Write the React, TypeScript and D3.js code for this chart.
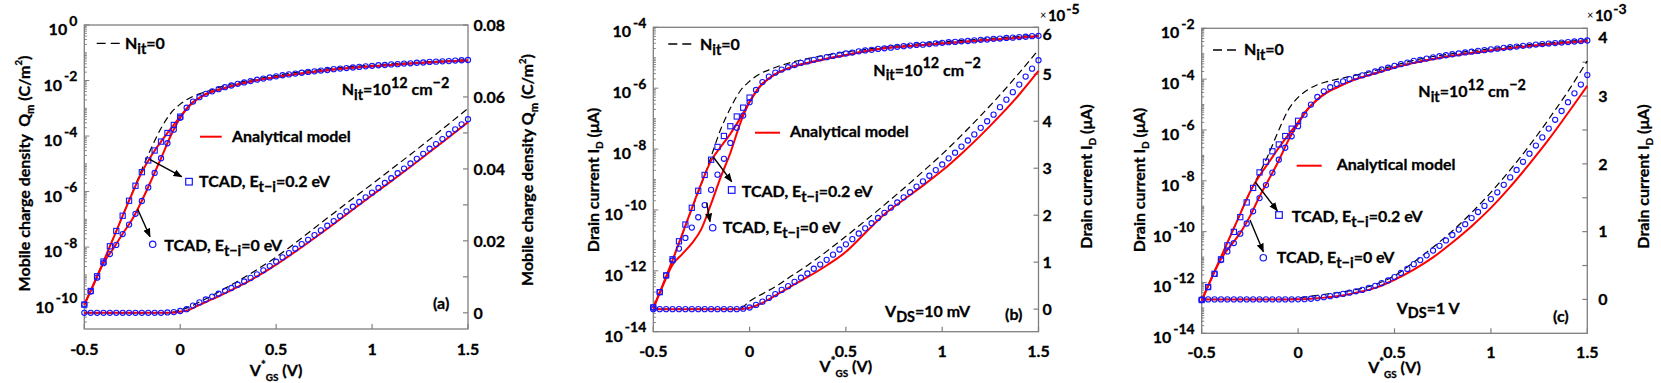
import React from 'react'
import * as d3 from 'd3'

// gate voltage grids (TCAD samples and model curve samples)
const vTcad = d3.range(61).map((i) => -0.5 + i / 30)
const vModel = [-0.5, -0.45, -0.4, -0.35, -0.3, -0.25, -0.2, -0.15, -0.1, -0.05, 0, 0.05, 0.1, 0.15, 0.2, 0.3, 0.4, 0.5, 0.6, 0.7, 0.8, 0.9, 1, 1.1, 1.2, 1.3, 1.4, 1.5]
const xTicks = [-0.5, 0, 0.5, 1, 1.5]

// (a) mobile charge density: log10(Qm) on the left axis, Qm (C/m2) on the right axis
const aLogCircle = [-10.07, -9.6, -9.1, -8.58, -8.25, -7.92, -7.53, -7.19, -6.8, -6.34, -5.85, -5.33, -4.8, -4.26, -3.77, -3.34, -2.98, -2.76, -2.6, -2.48, -2.39, -2.31, -2.24, -2.18, -2.12, -2.07, -2.02, -1.97, -1.93, -1.89, -1.85, -1.81, -1.78, -1.75, -1.72, -1.69, -1.67, -1.64, -1.62, -1.59, -1.57, -1.55, -1.53, -1.51, -1.49, -1.47, -1.45, -1.44, -1.42, -1.41, -1.39, -1.38, -1.36, -1.35, -1.33, -1.32, -1.31, -1.3, -1.28, -1.27, -1.26]
const aLogSquare = [-10.07, -9.58, -9.05, -8.52, -7.97, -7.42, -6.87, -6.33, -5.79, -5.3, -4.88, -4.52, -4.2, -3.89, -3.6, -3.3]
const aLinCircle = [0, 0, 0, 0, 0, 0, 0, 0, 0, 0, 0, 0, 0, 0.0001, 0.0002, 0.0005, 0.001, 0.002, 0.0029, 0.0037, 0.0045, 0.0053, 0.0061, 0.0069, 0.0078, 0.0087, 0.0097, 0.0107, 0.0118, 0.013, 0.0142, 0.0154, 0.0166, 0.0178, 0.0191, 0.0203, 0.0216, 0.0229, 0.0242, 0.0255, 0.0269, 0.0282, 0.0295, 0.0308, 0.0321, 0.0334, 0.0347, 0.0361, 0.0374, 0.0388, 0.0401, 0.0415, 0.0428, 0.0442, 0.0456, 0.0469, 0.0483, 0.0497, 0.051, 0.0524, 0.0538]
const aLogDash = [-10.07, -9.32, -8.52, -7.7, -6.87, -6.04, -5.2, -4.42, -3.72, -3.18, -2.85, -2.63, -2.48, -2.37, -2.25, -2.08, -1.94, -1.82, -1.71, -1.63, -1.56, -1.49, -1.45, -1.4, -1.36, -1.32, -1.28, -1.25]
const aLogRed02 = [-10.07, -9.32, -8.52, -7.7, -6.87, -6.06, -5.3, -4.7, -4.2, -3.74, -3.3, -2.9, -2.62, -2.44, -2.33, -2.14, -1.99, -1.87, -1.77, -1.68, -1.6, -1.54, -1.49, -1.44, -1.39, -1.35, -1.31, -1.28]
const aLogRed0 = [-10.07, -9.32, -8.57, -8.07, -7.52, -7.0, -6.33, -5.58, -4.8, -4.0, -3.34, -2.88, -2.62, -2.44, -2.33, -2.14, -1.99, -1.87, -1.77, -1.68, -1.6, -1.54, -1.49, -1.44, -1.39, -1.35, -1.31, -1.28]
const aLinDash = [0, 0, 0, 0, 0, 0, 0, 0, 0, 0.0001, 0.0008, 0.0017, 0.003, 0.0043, 0.0058, 0.0088, 0.012, 0.0155, 0.0194, 0.0236, 0.0277, 0.0318, 0.0358, 0.0399, 0.044, 0.0482, 0.0525, 0.0568]
const aLinRed = [0, 0, 0, 0, 0, 0, 0, 0, 0, 0, 0.0003, 0.0009, 0.0022, 0.0034, 0.0046, 0.0072, 0.0101, 0.0134, 0.017, 0.0208, 0.0247, 0.0287, 0.0327, 0.0366, 0.0406, 0.0447, 0.0488, 0.053]

// (b) drain current, VDS = 10 mV: log10(ID) left, ID in units of 1e-5 right
const bLogCircle = [-13.2, -12.7, -12.15, -11.66, -11.27, -10.92, -10.58, -10.24, -9.84, -9.34, -8.84, -8.32, -7.8, -7.3, -6.9, -6.46, -6.06, -5.8, -5.62, -5.49, -5.39, -5.31, -5.24, -5.17, -5.12, -5.07, -5.02, -4.98, -4.94, -4.9, -4.86, -4.83, -4.79, -4.76, -4.74, -4.71, -4.69, -4.67, -4.64, -4.62, -4.6, -4.58, -4.57, -4.55, -4.53, -4.51, -4.49, -4.48, -4.46, -4.45, -4.43, -4.41, -4.4, -4.38, -4.37, -4.35, -4.34, -4.32, -4.31, -4.29, -4.28]
const bLogSquare = [-13.2, -12.7, -12.15, -11.62, -11.03, -10.48, -9.93, -9.37, -8.85, -8.35, -7.93, -7.57, -7.25, -6.93, -6.64, -6.31]
const bLinCircle = [0, 0, 0, 0, 0, 0, 0, 0, 0, 0, 0, 0, 0, 0, 0.01, 0.035, 0.09, 0.16, 0.24, 0.32, 0.41, 0.49, 0.58, 0.67, 0.76, 0.86, 0.95, 1.05, 1.16, 1.27, 1.38, 1.49, 1.61, 1.72, 1.83, 1.94, 2.05, 2.16, 2.27, 2.38, 2.49, 2.61, 2.72, 2.84, 2.96, 3.08, 3.21, 3.33, 3.46, 3.59, 3.72, 3.86, 4.0, 4.14, 4.3, 4.46, 4.62, 4.78, 4.95, 5.12, 5.3]
const bLogDash = [-13.23, -12.45, -11.65, -10.82, -9.97, -9.15, -8.25, -7.35, -6.66, -6.1, -5.77, -5.54, -5.4, -5.28, -5.18, -5.03, -4.91, -4.81, -4.73, -4.65, -4.59, -4.53, -4.48, -4.43, -4.39, -4.34, -4.3, -4.26]
const bLogRed02 = [-13.23, -12.45, -11.65, -10.8, -9.95, -9.12, -8.38, -7.93, -7.5, -7.0, -6.45, -5.97, -5.68, -5.48, -5.35, -5.17, -5.03, -4.91, -4.79, -4.69, -4.63, -4.58, -4.53, -4.48, -4.43, -4.39, -4.34, -4.29]
const bLogRed0 = [-13.23, -12.48, -11.8, -11.45, -11.1, -10.62, -9.8, -8.92, -8.13, -7.18, -6.45, -5.97, -5.68, -5.48, -5.35, -5.17, -5.03, -4.91, -4.79, -4.69, -4.63, -4.58, -4.53, -4.48, -4.43, -4.39, -4.34, -4.29]
const bLinDash = [0, 0, 0, 0, 0, 0, 0, 0, 0, 0.01, 0.17, 0.29, 0.4, 0.52, 0.66, 0.93, 1.23, 1.55, 1.88, 2.22, 2.57, 2.93, 3.3, 3.7, 4.12, 4.56, 5.03, 5.52]
const bLinRed = [0, 0, 0, 0, 0, 0, 0, 0, 0, 0, 0.03, 0.1, 0.21, 0.33, 0.45, 0.68, 0.93, 1.22, 1.62, 2.02, 2.33, 2.63, 2.95, 3.31, 3.7, 4.12, 4.57, 5.07]

// (c) drain current, VDS = 1 V: log10(ID) left, ID in units of 1e-3 right
const cLogCircle = [-12.69, -12.18, -11.66, -11.12, -10.78, -10.45, -10.08, -9.68, -9.2, -8.68, -8.17, -7.68, -7.17, -6.7, -6.25, -5.85, -5.4, -5.0, -4.7, -4.48, -4.32, -4.19, -4.09, -4.0, -3.92, -3.85, -3.77, -3.7, -3.62, -3.55, -3.48, -3.41, -3.35, -3.28, -3.24, -3.19, -3.14, -3.1, -3.06, -3.02, -2.99, -2.95, -2.92, -2.89, -2.86, -2.83, -2.8, -2.77, -2.745, -2.72, -2.69, -2.67, -2.64, -2.62, -2.6, -2.58, -2.56, -2.54, -2.52, -2.5, -2.48]
const cLogSquare = [-12.69, -12.18, -11.66, -11.09, -10.54, -10.01, -9.43, -8.85, -8.28, -7.67, -7.25, -6.84, -6.57, -6.24, -5.95, -5.64]
const cLinCircle = [0, 0, 0, 0, 0, 0, 0, 0, 0, 0, 0, 0, 0, 0, 0, 0.001, 0.004, 0.01, 0.02, 0.033, 0.048, 0.065, 0.081, 0.1, 0.12, 0.14, 0.17, 0.2, 0.24, 0.28, 0.33, 0.39, 0.45, 0.52, 0.58, 0.65, 0.72, 0.79, 0.87, 0.95, 1.03, 1.11, 1.2, 1.29, 1.38, 1.48, 1.58, 1.69, 1.8, 1.91, 2.03, 2.15, 2.27, 2.39, 2.52, 2.65, 2.78, 2.91, 3.04, 3.17, 3.31]
const cLogDash = [-12.72, -11.85, -11.0, -10.15, -9.3, -8.45, -7.7, -6.9, -6.0, -5.2, -4.72, -4.42, -4.22, -4.1, -4.01, -3.84, -3.66, -3.46, -3.26, -3.11, -3.0, -2.89, -2.8, -2.72, -2.64, -2.58, -2.51, -2.45]
const cLogRed02 = [-12.72, -11.85, -11.0, -10.15, -9.3, -8.45, -7.8, -7.25, -6.7, -6.18, -5.7, -5.18, -4.8, -4.52, -4.33, -4.0, -3.77, -3.54, -3.36, -3.21, -3.08, -2.97, -2.87, -2.78, -2.7, -2.63, -2.56, -2.5]
const cLogRed0 = [-12.72, -11.85, -11.08, -10.55, -10.05, -9.4, -8.62, -7.92, -7.2, -6.4, -5.75, -5.18, -4.8, -4.52, -4.33, -4.0, -3.77, -3.54, -3.36, -3.21, -3.08, -2.97, -2.87, -2.78, -2.7, -2.63, -2.56, -2.5]
const cLinDash = [0, 0, 0, 0, 0, 0, 0, 0, 0, 0, 0.02, 0.04, 0.06, 0.08, 0.098, 0.145, 0.22, 0.35, 0.55, 0.77, 1.01, 1.28, 1.58, 1.91, 2.27, 2.66, 3.07, 3.52]
const cLinRed = [0, 0, 0, 0, 0, 0, 0, 0, 0, 0, 0.002, 0.007, 0.016, 0.03, 0.047, 0.1, 0.17, 0.29, 0.44, 0.62, 0.84, 1.08, 1.35, 1.66, 2.0, 2.36, 2.75, 3.15]

const FONT = 'Lato, "Open Sans", sans-serif'
const GREY = '#7f7f7f'
const BLUE = '#1515ff'
const RED = '#ff0000'
// a thin outline makes Lato look closer to the heavy bold of the original
const heavy = { stroke: '#000', strokeWidth: 0.3 }

type Part = [string, ('n' | 'sub' | 'sup')?, number?]

function Rich({ x, y, parts, size = 16, anchor = 'start', rotate = 0 }: { x: number; y: number; parts: Part[]; size?: number; anchor?: string; rotate?: number }) {
  let shift = 0
  const spans = parts.map(([t, kind = 'n', sc], i) => {
    const target = kind === 'sup' ? -size * 0.45 : kind === 'sub' ? size * 0.3 : 0
    const dy = target - shift
    shift = target
    const fs = kind === 'n' ? size : size * (sc ?? 0.85)
    return (
      <tspan key={i} dy={dy} fontSize={fs}>
        {t}
      </tspan>
    )
  })
  return (
    <text x={x} y={y} textAnchor={anchor as any} fontFamily={FONT} fontWeight={700} fontSize={size} fill="#000" {...heavy} style={{ whiteSpace: 'pre' }} transform={rotate ? `rotate(${rotate} ${x} ${y})` : undefined}>
      {spans}
    </text>
  )
}

type Box = { l: number; r: number; t: number; b: number }
type Series = {
  logCircle: number[]; logSquare: number[]; linCircle: number[]
  logDash: number[]; logRed02: number[]; logRed0: number[]; linDash: number[]; linRed: number[]
}

function Panel(props: {
  box: Box; logMin: number; logMax: number; logLabels: number[]
  linDomain: [number, number]; linTicks: number[]; linLabels: number[]; linFmt: (v: number) => string
  rightDx: number; topShift: number; xLabelY: number; xTitleY: number; data: Series
  leftTitle: [number, number, Part[]]; rightTitle: [number, number, Part[]]
}) {
  const { box, logMin, logMax, logLabels, linDomain, linTicks, linLabels, linFmt, rightDx, topShift, xLabelY, xTitleY, data } = props
  const x = d3.scaleLinear().domain([-0.5, 1.5]).range([box.l, box.r])
  const yLog = d3.scaleLog().domain([10 ** logMin, 10 ** logMax]).range([box.b, box.t])
  const yLin = d3.scaleLinear().domain(linDomain).range([box.b, box.t])
  const logLine = d3.line<number>().x((_, i) => x(vModel[i])).y((d) => yLog(10 ** d)).curve(d3.curveMonotoneX)
  const linLine = d3.line<number>().x((_, i) => x(vModel[i])).y((d) => yLin(d)).curve(d3.curveMonotoneX)

  const logTicks: { v: number; major: boolean }[] = []
  for (let e = Math.floor(logMin); e <= logMax; e++) {
    for (let k = 1; k < 10; k++) {
      const lv = e + Math.log10(k)
      if (lv < logMin - 1e-9 || lv > logMax + 1e-9) continue
      logTicks.push({ v: k * 10 ** e, major: k === 1 && logLabels.includes(e) })
    }
  }
  const fmtX = (v: number) => (v === 0 ? '0' : String(v))
  const txt = { fontFamily: FONT, fontWeight: 700, fontSize: 16, fill: '#000', ...heavy } as const
  const topLabel = d3.max(linLabels) ?? 0

  return (
    <g>
      <rect x={box.l} y={box.t} width={box.r - box.l} height={box.b - box.t} fill="none" stroke={GREY} strokeWidth={1.3} />
      {xTicks.map((v) => (
        <line key={'xt' + v} x1={x(v)} x2={x(v)} y1={box.b} y2={box.b - 5} stroke={GREY} strokeWidth={1.2} />
      ))}
      {xTicks.map((v) => (
        <text key={'xl' + v} x={x(v)} y={xLabelY} textAnchor="middle" {...txt}>
          {fmtX(v)}
        </text>
      ))}
      {logTicks.map((t, i) => (
        <line key={'lt' + i} x1={box.l} x2={box.l + (t.major ? 5 : 2.5)} y1={yLog(t.v)} y2={yLog(t.v)} stroke={GREY} strokeWidth={1} />
      ))}
      {logLabels.map((e) => (
        <text key={'ll' + e} x={box.l - 7} y={yLog(10 ** e) + 10} textAnchor="end" {...txt}>
          <tspan fontSize={16}>10</tspan>
          <tspan fontSize={14} dx={2} dy={-9.5}>
            {String(e)}
          </tspan>
        </text>
      ))}
      {linTicks.map((v) => (
        <line key={'rt' + v} x1={box.r} x2={box.r - 5} y1={yLin(v)} y2={yLin(v)} stroke={GREY} strokeWidth={1.2} />
      ))}
      {linLabels.map((v) => (
        <text key={'rl' + v} x={box.r + rightDx} y={yLin(v) + 5.8 + (v === topLabel ? topShift : 0)} {...txt}>
          {linFmt(v)}
        </text>
      ))}

      <path d={logLine(data.logDash) ?? ''} fill="none" stroke="#000" strokeWidth={1.2} strokeDasharray="7 4" />
      <path d={linLine(data.linDash) ?? ''} fill="none" stroke="#000" strokeWidth={1.2} strokeDasharray="7 4" />
      <path d={logLine(data.logRed02) ?? ''} fill="none" stroke={RED} strokeWidth={2} />
      <path d={logLine(data.logRed0) ?? ''} fill="none" stroke={RED} strokeWidth={2} />
      <path d={linLine(data.linRed) ?? ''} fill="none" stroke={RED} strokeWidth={2} />

      {data.logSquare.map((d, i) => (
        <rect key={'sq' + i} x={x(vTcad[i]) - 2.6} y={yLog(10 ** d) - 2.6} width={5.2} height={5.2} fill="none" stroke={BLUE} strokeWidth={1.1} />
      ))}
      {data.logCircle.map((d, i) => (
        <circle key={'lc' + i} cx={x(vTcad[i])} cy={yLog(10 ** d)} r={2.6} fill="none" stroke={BLUE} strokeWidth={1.1} />
      ))}
      {data.linCircle.map((d, i) => (
        <circle key={'nc' + i} cx={x(vTcad[i])} cy={yLin(d)} r={2.6} fill="none" stroke={BLUE} strokeWidth={1.1} />
      ))}

      <Rich x={x(0.5)} y={xTitleY} anchor="middle" parts={[['V'], ['*', 'sup', 0.7], ['GS', 'sub', 0.62], [' (V)']]} />
      <Rich x={props.leftTitle[0]} y={props.leftTitle[1]} anchor="middle" rotate={-90} parts={props.leftTitle[2]} />
      <Rich x={props.rightTitle[0]} y={props.rightTitle[1]} anchor="middle" rotate={-90} parts={props.rightTitle[2]} />
    </g>
  )
}

type NoteProps = {
  leg: [number, number, number, number, number]
  mod: [number, number, number, number, number]
  sq: [number, number, number, number]
  ci: [number, number, number, number]
  arrSq: [number, number, number, number]
  arrCi: [number, number, number, number]
  nit: [number, number]
  tag: [number, number, string]
  vds?: [number, number, string]
}

function Notes({ leg, mod, sq, ci, arrSq, arrCi, nit, tag, vds }: NoteProps) {
  return (
    <g>
      <line x1={leg[0]} x2={leg[1]} y1={leg[2]} y2={leg[2]} stroke="#000" strokeWidth={1.3} strokeDasharray="9 5" />
      <Rich x={leg[3]} y={leg[4]} parts={[['N'], ['it', 'sub', 0.9], ['=0']]} />
      <line x1={mod[0]} x2={mod[1]} y1={mod[2]} y2={mod[2]} stroke={RED} strokeWidth={2} />
      <Rich x={mod[3]} y={mod[4]} parts={[['Analytical model']]} />
      <rect x={sq[0] - 3.3} y={sq[1] - 3.3} width={6.6} height={6.6} fill="none" stroke={BLUE} strokeWidth={1.2} />
      <Rich x={sq[2]} y={sq[3]} parts={[['TCAD, E'], ['t\u2212i', 'sub', 0.9], ['=0.2 eV']]} />
      <circle cx={ci[0]} cy={ci[1]} r={3.2} fill="none" stroke={BLUE} strokeWidth={1.2} />
      <Rich x={ci[2]} y={ci[3]} parts={[['TCAD, E'], ['t\u2212i', 'sub', 0.9], ['=0 eV']]} />
      <line x1={arrSq[0]} y1={arrSq[1]} x2={arrSq[2]} y2={arrSq[3]} stroke="#000" strokeWidth={1.4} markerEnd="url(#arrowHead)" />
      <line x1={arrCi[0]} y1={arrCi[1]} x2={arrCi[2]} y2={arrCi[3]} stroke="#000" strokeWidth={1.4} markerEnd="url(#arrowHead)" />
      <Rich x={nit[0]} y={nit[1]} parts={[['N'], ['it', 'sub', 0.9], ['=10'], ['12', 'sup', 0.9], [' cm'], ['\u22122', 'sup', 0.9]]} />
      <Rich x={tag[0]} y={tag[1]} parts={[[tag[2]]]} />
      {vds && <Rich x={vds[0]} y={vds[1]} parts={[['V'], ['DS', 'sub', 0.9], [vds[2]]]} />}
    </g>
  )
}

// the "x10^n" multiplier above a right-hand axis, as one text run
function Mult({ x, y, exp }: { x: number; y: number; exp: string }) {
  return (
    <text x={x} y={y} fontFamily={FONT} fill="#000" style={{ whiteSpace: 'pre' }}>
      <tspan fontSize={11} dy={-2}>
        ×
      </tspan>
      <tspan fontSize={15} fontWeight={700} dx={1.5} dy={2} {...heavy}>
        10
      </tspan>
      <tspan fontSize={14} fontWeight={700} dx={1} dy={-7} {...heavy}>
        {exp}
      </tspan>
    </text>
  )
}

const qTitle = (gap: string): Part[] => [['Mobile charge density' + gap + 'Q'], ['m', 'sub', 0.7], [' (C/m'], ['2', 'sup', 0.6], [')']]
const idTitle: Part[] = [['Drain current I'], ['D', 'sub', 0.6], [' (\u03bcA)']]

export default function App() {
  return (
    <svg width={1661} height={383} style={{ position: 'absolute', left: 0, top: 0, background: '#fff' }}>
      <defs>
        <marker id="arrowHead" viewBox="0 0 10 10" refX={9} refY={5} markerWidth={9} markerHeight={9} markerUnits="userSpaceOnUse" orient="auto">
          <path d="M0,1 L10,5 L0,9 z" fill="#000" />
        </marker>
      </defs>
      <rect width={1661} height={383} fill="#fff" />

      <Panel
        box={{ l: 84.3, r: 468, t: 25, b: 329 }}
        logMin={-10.95}
        logMax={0}
        logLabels={[0, -2, -4, -6, -8, -10]}
        linDomain={[-0.0045, 0.08]}
        linTicks={[0, 0.01, 0.02, 0.03, 0.04, 0.05, 0.06, 0.07, 0.08]}
        linLabels={[0, 0.02, 0.04, 0.06, 0.08]}
        linFmt={(v) => (v === 0 ? '0' : v.toFixed(2))}
        rightDx={5.5}
        topShift={0}
        xLabelY={355}
        xTitleY={376}
        data={{ logCircle: aLogCircle, logSquare: aLogSquare, linCircle: aLinCircle, logDash: aLogDash, logRed02: aLogRed02, logRed0: aLogRed0, linDash: aLinDash, linRed: aLinRed }}
        leftTitle={[29.5, 173.5, qTitle('  ')]}
        rightTitle={[533.2, 170, qTitle(' ')]}
      />
      <Notes
        leg={[96.7, 120, 43.3, 125, 49]}
        mod={[200, 221.7, 136.7, 232, 141.7]}
        sq={[189, 181.7, 199, 187.3]}
        ci={[152.7, 244.3, 164.3, 250.7]}
        arrSq={[149.7, 159.3, 181.7, 176.7]}
        arrCi={[137.7, 209.3, 150, 236.7]}
        nit={[341.7, 95]}
        tag={[433, 309, '(a)']}
      />

      <Panel
        box={{ l: 653.3, r: 1038.5, t: 27.3, b: 331.7 }}
        logMin={-14}
        logMax={-4}
        logLabels={[-4, -6, -8, -10, -12, -14]}
        linDomain={[-0.48, 6]}
        linTicks={[0, 1, 2, 3, 4, 5, 6]}
        linLabels={[0, 1, 2, 3, 4, 5, 6]}
        linFmt={(v) => String(v)}
        rightDx={4}
        topShift={6.5}
        xLabelY={357}
        xTitleY={372}
        data={{ logCircle: bLogCircle, logSquare: bLogSquare, linCircle: bLinCircle, logDash: bLogDash, logRed02: bLogRed02, logRed0: bLogRed0, linDash: bLinDash, linRed: bLinRed }}
        leftTitle={[598.5, 180, idTitle]}
        rightTitle={[1091.5, 176.5, idTitle]}
      />
      <Notes
        leg={[668.3, 695, 44, 700, 50]}
        mod={[755, 780, 132.7, 790, 136.7]}
        sq={[731.7, 190, 741.7, 196.7]}
        ci={[712.7, 227.7, 722.7, 233.3]}
        arrSq={[713.3, 157, 731.7, 181.7]}
        arrCi={[706.7, 202.7, 710, 221.7]}
        nit={[873.3, 75.5]}
        tag={[1005, 320, '(b)']}
        vds={[885, 317, '=10 mV']}
      />
      <Mult x={1040} y={20.5} exp="-5" />

      <Panel
        box={{ l: 1201.7, r: 1587.3, t: 28.3, b: 333.3 }}
        logMin={-14}
        logMax={-2}
        logLabels={[-2, -4, -6, -8, -10, -12, -14]}
        linDomain={[-0.5, 4]}
        linTicks={[0, 0.5, 1, 1.5, 2, 2.5, 3, 3.5, 4]}
        linLabels={[0, 1, 2, 3, 4]}
        linFmt={(v) => String(v)}
        rightDx={11}
        topShift={9}
        xLabelY={357.5}
        xTitleY={373}
        data={{ logCircle: cLogCircle, logSquare: cLogSquare, linCircle: cLinCircle, logDash: cLogDash, logRed02: cLogRed02, logRed0: cLogRed0, linDash: cLinDash, linRed: cLinRed }}
        leftTitle={[1144.5, 180, idTitle]}
        rightTitle={[1648.5, 176.5, idTitle]}
      />
      <Notes
        leg={[1213, 1237, 50, 1244, 55]}
        mod={[1296.7, 1321.7, 165.7, 1336.7, 170]}
        sq={[1279, 215, 1291.7, 221.7]}
        ci={[1263.3, 257.7, 1276.7, 263.3]}
        arrSq={[1255, 181.7, 1277.3, 210.7]}
        arrCi={[1250, 220, 1263.3, 251.7]}
        nit={[1418.3, 96.7]}
        tag={[1553, 322, '(c)']}
        vds={[1396.7, 313.5, '=1 V']}
      />
      <Mult x={1587} y={20.5} exp="-3" />
    </svg>
  )
}
